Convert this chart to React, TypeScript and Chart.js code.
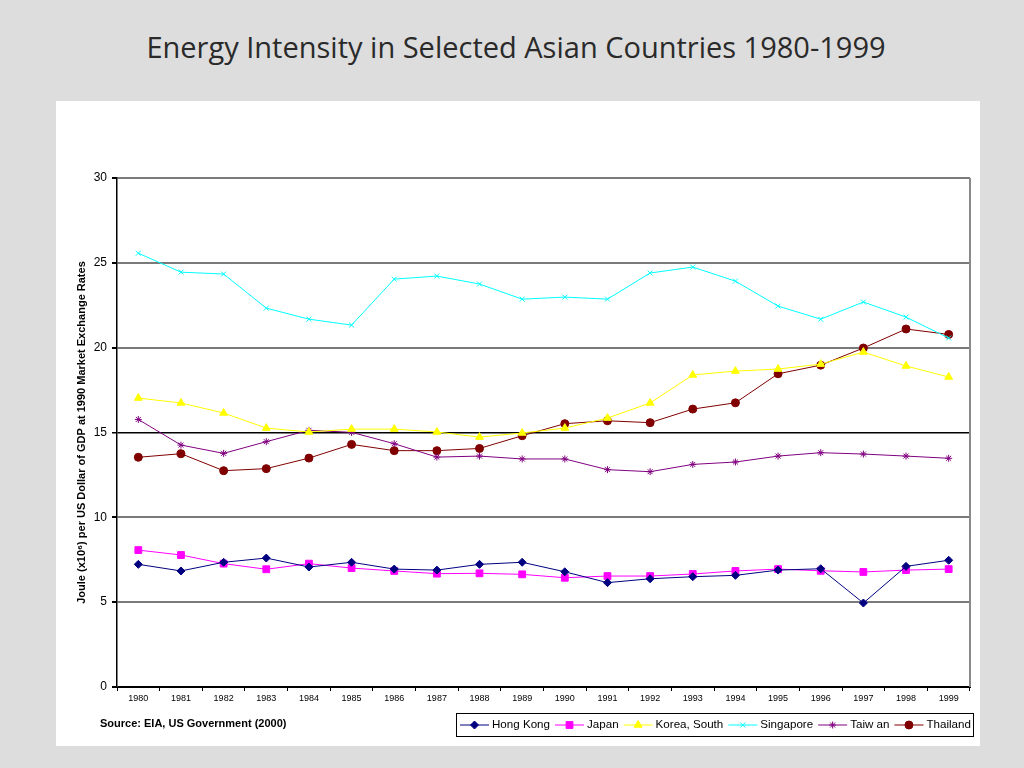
import React, { useEffect, useRef } from "react";
import { Chart, registerables } from "chart.js";
import { drawPoint } from "chart.js/helpers";

Chart.register(...registerables);

const TITLE = "Energy Intensity in Selected Asian Countries 1980-1999";
const Y_TITLE = "Joule (x10\u2076) per US Dollar of GDP at 1990 Market Exchange Rates";
const SOURCE = "Source: EIA, US Government (2000)";

const years = ["1980", "1981", "1982", "1983", "1984", "1985", "1986", "1987", "1988", "1989",
  "1990", "1991", "1992", "1993", "1994", "1995", "1996", "1997", "1998", "1999"];

const hongKong = [7.23, 6.84, 7.35, 7.6, 7.07, 7.35, 6.95, 6.89, 7.23, 7.35,
  6.79, 6.15, 6.38, 6.5, 6.58, 6.89, 6.97, 4.95, 7.11, 7.47];
const japan = [8.07, 7.78, 7.27, 6.94, 7.27, 7.01, 6.84, 6.68, 6.7, 6.64,
  6.44, 6.54, 6.54, 6.66, 6.84, 6.95, 6.85, 6.78, 6.89, 6.95];
const korea = [17.03, 16.74, 16.15, 15.26, 15.03, 15.2, 15.2, 15.03, 14.73, 14.97,
  15.26, 15.85, 16.74, 18.39, 18.62, 18.74, 19.03, 19.74, 18.92, 18.27];
const singapore = [25.57, 24.45, 24.34, 22.33, 21.68, 21.33, 24.04, 24.22, 23.75, 22.86,
  22.98, 22.86, 24.4, 24.75, 23.92, 22.45, 21.68, 22.69, 21.8, 20.57];
const taiwan = [15.77, 14.26, 13.77, 14.46, 15.13, 15.01, 14.34, 13.55, 13.61, 13.44,
  13.44, 12.81, 12.69, 13.12, 13.26, 13.61, 13.81, 13.73, 13.61, 13.48];
const thailand = [13.54, 13.75, 12.75, 12.87, 13.49, 14.3, 13.93, 13.93, 14.06, 14.81,
  15.52, 15.69, 15.58, 16.38, 16.75, 18.46, 18.97, 19.98, 21.1, 20.78];

const seriesNames = ["Hong Kong", "Japan", "Korea, South", "Singapore", "Taiw an", "Thailand"];
const seriesColors = ["#000080", "#ff00ff", "#ffff00", "#00ffff", "#800080", "#800000"];
const seriesStyles = ["rectRot", "rect", "triangle", "crossRot", "star", "circle"];
const seriesRadius = [4, 4.8, 4.5, 3.5, 3.5, 4];
const seriesData = [hongKong, japan, korea, singapore, taiwan, thailand];

const yMin = 0;
const yMax = 30;
const yStep = 5;

const PANEL_W = 924;
const PANEL_H = 645;

const extrasPlugin = {
  id: "extras",
  beforeDatasetsDraw(chart: any) {
    const { ctx, chartArea } = chart;
    ctx.save();
    ctx.strokeStyle = "#8a8a8a";
    ctx.lineWidth = 2;
    ctx.beginPath();
    ctx.moveTo(chartArea.right, chartArea.top);
    ctx.lineTo(chartArea.right, chartArea.bottom);
    ctx.stroke();
    ctx.restore();
  },
  afterDraw(chart: any) {
    const { ctx } = chart;
    ctx.save();
    ctx.font = "bold 11px Arial, 'Liberation Sans', sans-serif";
    ctx.fillStyle = "#000";
    ctx.textBaseline = "middle";
    ctx.textAlign = "left";
    ctx.fillText(SOURCE, 44, 623);

    const boxL = 400, boxR = 917, boxT = 612, boxB = 635;
    ctx.fillStyle = "#fff";
    ctx.fillRect(boxL, boxT, boxR - boxL, boxB - boxT);
    ctx.strokeStyle = "#000";
    ctx.lineWidth = 1;
    ctx.strokeRect(boxL + 0.5, boxT + 0.5, boxR - boxL, boxB - boxT);
    ctx.font = "11.6px Arial, 'Liberation Sans', sans-serif";
    const cy = (boxT + boxB) / 2 + 0.5;
    let x = 404;
    chart.data.datasets.forEach((ds: any) => {
      const lineLen = 29;
      ctx.strokeStyle = ds.borderColor;
      ctx.lineWidth = 1;
      ctx.beginPath();
      ctx.moveTo(x, cy);
      ctx.lineTo(x + lineLen, cy);
      ctx.stroke();
      ctx.fillStyle = ds.pointBackgroundColor;
      ctx.strokeStyle = ds.pointBorderColor;
      ctx.lineWidth = 1;
      drawPoint(ctx, { pointStyle: ds.pointStyle, rotation: 0, radius: ds.pointRadius, borderWidth: 1 } as any, x + lineLen / 2, cy);
      ctx.fillStyle = "#000";
      ctx.fillText(ds.label, x + lineLen + 3, cy);
      x += lineLen + 3 + ctx.measureText(ds.label).width + 5;
    });
    ctx.restore();
  },
};

function ChartPanel() {
  const ref = useRef<HTMLCanvasElement | null>(null);
  useEffect(() => {
    if (!ref.current) return;
    const datasets = seriesNames.map((name, i) => ({
      label: name,
      data: seriesData[i],
      borderColor: seriesColors[i],
      backgroundColor: seriesColors[i],
      pointBackgroundColor: seriesColors[i],
      pointBorderColor: seriesColors[i],
      pointStyle: seriesStyles[i],
      pointRadius: seriesRadius[i],
      pointBorderWidth: 1,
      borderWidth: 1,
      tension: 0,
      fill: false,
    }));
    const chart = new Chart(ref.current, {
      type: "line",
      data: { labels: years, datasets },
      plugins: [extrasPlugin],
      options: {
        animation: false,
        responsive: false,
        maintainAspectRatio: false,
        devicePixelRatio: 1,
        layout: { padding: { left: 0, right: 10, top: 77, bottom: 0 } },
        plugins: { legend: { display: false }, tooltip: { enabled: false }, title: { display: false } },
        scales: {
          x: {
            type: "category",
            offset: true,
            afterFit: (s: any) => { s.height = 59; },
            grid: {
              display: true,
              drawOnChartArea: false,
              drawTicks: true,
              tickLength: 4,
              offset: true,
              color: "#000",
            },
            border: { display: true, color: "#000", width: 1 },
            ticks: {
              color: "#000",
              font: { family: "Arial, 'Liberation Sans', sans-serif", size: 9 },
              padding: 2,
              maxRotation: 0,
              autoSkip: false,
            },
          },
          y: {
            min: yMin,
            max: yMax,
            afterFit: (s: any) => { s.width = 61; },
            grid: {
              display: true,
              drawOnChartArea: true,
              drawTicks: true,
              tickLength: 5,
              tickColor: "#000",
              color: (c: any) => (c.tick && (c.tick.value === 15 || c.tick.value === 0)) ? "#000" : "#7a7a7a",
              lineWidth: (c: any) => (c.tick && c.tick.value === 15) ? 1.5 : 2,
            },
            border: { display: true, color: "#000", width: 1.5 },
            ticks: {
              stepSize: yStep,
              color: "#000",
              font: { family: "Arial, 'Liberation Sans', sans-serif", size: 12 },
              padding: 5,
            },
            title: {
              display: true,
              text: Y_TITLE,
              color: "#000",
              font: { family: "Arial, 'Liberation Sans', sans-serif", size: 11, weight: "bold" },
              padding: { top: 19, bottom: 0 },
            },
          },
        },
      },
    } as any);
    return () => chart.destroy();
  }, []);
  return <canvas ref={ref} width={PANEL_W} height={PANEL_H} style={{ display: "block", width: PANEL_W, height: PANEL_H }} />;
}

export default function App() {
  return (
    <div style={{ position: "absolute", left: 0, top: 0, width: 1024, height: 768, background: "#dddddd", overflow: "hidden" }}>
      <div style={{
        position: "absolute", left: 0, top: 27, width: 1032, textAlign: "center",
        fontFamily: "'Comic Sans MS', 'Open Sans', sans-serif", fontSize: 29, color: "#2a2a2a", lineHeight: "40px",
      }}>{TITLE}</div>
      <div style={{ position: "absolute", left: 56, top: 101, width: PANEL_W, height: PANEL_H, background: "#ffffff" }}>
        <ChartPanel />
      </div>
    </div>
  );
}
